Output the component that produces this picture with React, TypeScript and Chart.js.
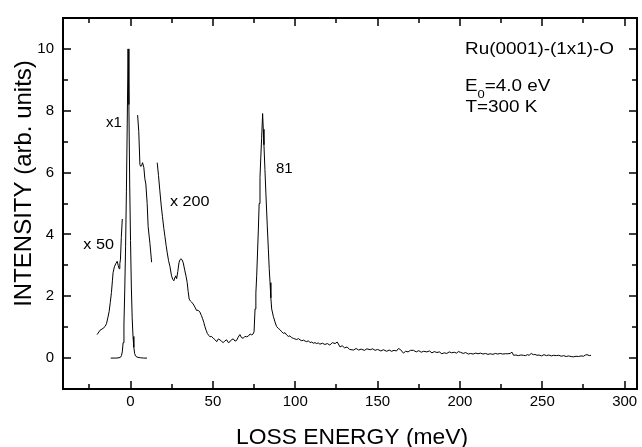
import React, { useEffect, useRef } from 'react';
import { Chart, registerables } from 'chart.js';
Chart.register(...registerables);

const FONT = '"Liberation Sans", Arial, sans-serif';

// x1 : elastic peak
const elasticEnergy = [-12, -9, -7, -6, -5.5, -5, -4.5, -4, -3.5, -3, -2.5, -2, -1.5, -1, -0.5, 0, 0.5, 1, 1.5, 2, 2.5, 3, 4, 6, 8, 10];
const elasticIntensity = [0, 0, 0.01, 0.03, 0.08, 0.2, 0.5, 1.1, 2.2, 3.6, 5.4, 7.6, 10, 8.2, 5.6, 3.8, 2.3, 1.3, 0.7, 0.35, 0.15, 0.07, 0.03, 0.01, 0, 0];

// x50 : left wing
const x50LeftEnergy = [-20.3, -18.5, -16.7, -15.5, -14.6, -13.8, -13, -12.3, -11.6, -11, -10.6, -9.8, -9, -8.1, -7.5, -6.9, -6.5, -6.1, -5.6, -5.0];
const x50LeftIntensity = [0.76, 0.9, 0.96, 1.02, 1.11, 1.3, 1.5, 1.8, 2.12, 2.5, 2.76, 2.95, 3.05, 3.13, 3.0, 2.89, 3.05, 3.2, 3.9, 4.5];

// x50 : right wing
const x50RightEnergy = [4.3, 5, 5.7, 6.2, 6.7, 7.3, 8.1, 8.7, 9.3, 10.1, 10.7, 11.8, 12.8];
const x50RightIntensity = [7.86, 7.33, 6.26, 6.2, 6.22, 6.32, 6.16, 5.8, 5.63, 5.0, 4.25, 3.7, 3.1];

// x200 : loss region
const x200Energy = [16.2, 17, 17.8, 18.6, 19.4, 20.2, 20.9, 21.6, 22.3, 23.1, 23.9, 24.9, 25.6, 26.3, 27, 27.4, 28, 28.7, 29.4, 30.0, 30.6, 31.3, 32, 33, 33.7, 34.4, 35, 35.6, 36.3, 37.1, 38, 39.1, 40.1, 41, 42.1, 43, 43.8, 44.5, 45.2, 45.9, 46.6, 47.4, 48.2, 49.2, 50.2, 51.2, 52.3, 53.3, 54.3, 55.3, 56.3, 57.3, 58.4, 59.4, 60.4, 61.4, 62.4, 63.4, 64.4, 65.4, 66.4, 67.4, 68.4, 69.4, 70.5, 71.5, 72.6, 73.6, 74.4, 75, 75.6, 76.1, 76.6, 77.1, 77.6, 78.1, 78.6, 79.1, 79.6, 80.2, 80.6, 81, 81.6, 82.2, 83, 83.7, 84.2, 84.7, 85.2, 85.7, 86.7, 87.7, 88.7, 89.7, 90.7, 91.8, 92.8, 93.8, 94.8, 95.8, 96.8, 97.8, 98.8, 99.8, 100.9, 101.9, 102.9, 104, 105, 106, 107, 108, 109, 110, 111, 112, 113, 114, 115, 116.5, 118, 119.5, 121, 122.5, 124.2, 125.5, 127.2, 128.5, 130, 131.5, 133, 135.3, 137, 138.5, 140, 142, 143.5, 145.5, 147, 148.5, 150, 152, 153.5, 155.6, 157, 158.5, 160, 161.5, 162.7, 164, 165.7, 167, 168.5, 170, 171.8, 173.5, 175, 176.5, 178, 179.9, 181.5, 183, 184.5, 186, 187.5, 189, 190.5, 192, 193.5, 195, 196.5, 198, 199, 200.2, 202, 203.5, 205, 206.5, 208, 209.5, 211, 212.5, 214, 215.5, 217, 218.4, 220, 221.5, 223, 224.5, 226, 227.5, 229, 230.5, 231.6, 232.6, 234, 235.5, 237, 238.5, 239.7, 241, 242, 243.3, 244.5, 245.5, 246.8, 248, 249.5, 251, 252.5, 254, 255.5, 256.9, 258.5, 260, 261.5, 263, 264.5, 266, 267.5, 269, 270.5, 272, 273.5, 275, 276.2, 277.2, 278.5, 279.6];
const x200Intensity = [6.32, 5.9, 5.41, 4.95, 4.57, 4.2, 3.93, 3.65, 3.4, 3.15, 2.97, 2.66, 2.55, 2.5, 2.62, 2.66, 2.57, 2.8, 3.08, 3.18, 3.21, 3.18, 3.08, 2.82, 2.65, 2.44, 2.15, 1.91, 1.85, 1.81, 1.75, 1.65, 1.54, 1.55, 1.49, 1.38, 1.27, 1.15, 1.01, 0.9, 0.8, 0.74, 0.69, 0.7, 0.64, 0.6, 0.53, 0.62, 0.59, 0.54, 0.5, 0.56, 0.59, 0.5, 0.53, 0.6, 0.62, 0.55, 0.57, 0.68, 0.76, 0.66, 0.64, 0.7, 0.69, 0.71, 0.78, 0.75, 0.78, 0.85, 1.59, 2.1, 2.66, 3.4, 4.14, 5.0, 5.84, 6.5, 7.11, 7.91, 7.4, 6.9, 6.1, 5.31, 4.3, 3.5, 2.9, 2.44, 1.95, 1.59, 1.35, 1.17, 1.02, 0.96, 0.92, 0.85, 0.8, 0.82, 0.75, 0.7, 0.72, 0.66, 0.64, 0.62, 0.6, 0.63, 0.59, 0.56, 0.58, 0.55, 0.53, 0.56, 0.5, 0.52, 0.48, 0.5, 0.47, 0.49, 0.45, 0.48, 0.44, 0.47, 0.42, 0.5, 0.47, 0.52, 0.36, 0.4, 0.33, 0.36, 0.28, 0.26, 0.31, 0.26, 0.29, 0.25, 0.3, 0.27, 0.3, 0.25, 0.28, 0.23, 0.27, 0.22, 0.26, 0.22, 0.25, 0.23, 0.31, 0.27, 0.16, 0.22, 0.2, 0.25, 0.25, 0.2, 0.24, 0.19, 0.22, 0.2, 0.23, 0.17, 0.21, 0.18, 0.2, 0.14, 0.17, 0.15, 0.2, 0.17, 0.19, 0.16, 0.21, 0.19, 0.15, 0.18, 0.13, 0.15, 0.13, 0.16, 0.14, 0.16, 0.13, 0.15, 0.12, 0.14, 0.12, 0.15, 0.13, 0.15, 0.13, 0.14, 0.14, 0.15, 0.19, 0.09, 0.1, 0.08, 0.1, 0.09, 0.08, 0.11, 0.09, 0.15, 0.11, 0.12, 0.09, 0.1, 0.07, 0.11, 0.08, 0.1, 0.07, 0.09, 0.08, 0.09, 0.06, 0.08, 0.05, 0.07, 0.05, 0.04, 0.06, 0.05, 0.07, 0.06, 0.1, 0.11, 0.08, 0.09];

const xTickValues = [0, 50, 100, 150, 200, 250, 300];
const xTickLabels = ['0', '50', '100', '150', '200', '250', '300'];
const xMinorTicks = [-25, 25, 75, 125, 175, 225, 275];
const yTickValues = [0, 2, 4, 6, 8, 10];
const yTickLabels = ['0', '2', '4', '6', '8', '10'];
const yMinorTicks = [1, 3, 5, 7, 9];

const xTitle = 'LOSS ENERGY (meV)';
const yTitle = 'INTENSITY (arb. units)';

const toPts = (xs: number[], ys: number[]) => xs.map((x, i) => ({ x, y: ys[i] }));

function stretchText(ctx: CanvasRenderingContext2D, text: string, x: number, y: number, size: number, sx: number) {
  ctx.save();
  ctx.font = `${size}px ${FONT}`;
  ctx.textAlign = 'left';
  ctx.textBaseline = 'alphabetic';
  ctx.translate(x, y);
  ctx.scale(sx, 1);
  ctx.fillText(text, 0, 0);
  const w = ctx.measureText(text).width * sx;
  ctx.restore();
  return w;
}

const framePlugin = {
  id: 'frame',
  afterDraw(chart: any) {
    const { ctx, chartArea: a, scales } = chart;
    const xs = scales.x;
    const ys = scales.y;
    ctx.save();
    ctx.strokeStyle = '#000';
    ctx.fillStyle = '#000';
    ctx.lineWidth = 2;
    ctx.strokeRect(a.left, a.top, a.right - a.left, a.bottom - a.top);
    ctx.lineWidth = 1.5;
    const xt = (v: number, len: number) => {
      const p = Math.round(xs.getPixelForValue(v));
      ctx.beginPath();
      ctx.moveTo(p, a.bottom); ctx.lineTo(p, a.bottom - len);
      ctx.moveTo(p, a.top); ctx.lineTo(p, a.top + len);
      ctx.stroke();
    };
    const yt = (v: number, len: number) => {
      const p = Math.round(ys.getPixelForValue(v));
      ctx.beginPath();
      ctx.moveTo(a.left, p); ctx.lineTo(a.left + len, p);
      ctx.moveTo(a.right, p); ctx.lineTo(a.right - len, p);
      ctx.stroke();
    };
    xTickValues.forEach((v) => xt(v, 8));
    xMinorTicks.forEach((v) => xt(v, 5));
    yTickValues.forEach((v) => yt(v, 8));
    yMinorTicks.forEach((v) => yt(v, 5));

    // annotations
    const S = 1.18;
    stretchText(ctx, 'Ru(0001)-(1x1)-O', 465, 53.5, 16, S);
    const w = stretchText(ctx, 'E', 465, 90.5, 16, S);
    const w0 = stretchText(ctx, '0', 465 + w, 97.5, 11, S);
    stretchText(ctx, '=4.0 eV', 465 + w + w0, 90.5, 16, S);
    stretchText(ctx, 'T=300 K', 465.5, 111.5, 16, S);
    stretchText(ctx, 'x1', 106, 126.5, 15, 1.0);
    stretchText(ctx, '81', 276, 173.3, 15, 1.0);
    stretchText(ctx, 'x 200', 170, 205.7, 15, 1.08);
    stretchText(ctx, 'x 50', 83.3, 249, 15, 1.08);

    // axis titles
    ctx.font = `22px ${FONT}`;
    const tw = ctx.measureText(xTitle).width * 1.037;
    stretchText(ctx, xTitle, 352 - tw / 2, 444, 22, 1.037);

    ctx.save();
    ctx.font = `24px ${FONT}`;
    ctx.textAlign = 'center';
    ctx.textBaseline = 'alphabetic';
    ctx.translate(30.7, 183.5);
    ctx.rotate(-Math.PI / 2);
    ctx.fillText(yTitle, 0, 0);
    ctx.restore();
    ctx.restore();
  },
};

export default function App() {
  const ref = useRef<HTMLCanvasElement>(null);
  useEffect(() => {
    const line = { showLine: true, pointRadius: 0, borderColor: '#000', backgroundColor: '#000', borderWidth: 1, fill: false, tension: 0 };
    const chart = new Chart(ref.current as HTMLCanvasElement, {
      type: 'scatter',
      data: {
        datasets: [
          { label: 'x1', data: toPts(elasticEnergy, elasticIntensity), ...line },
          { label: 'x50 left', data: toPts(x50LeftEnergy, x50LeftIntensity), ...line },
          { label: 'x50 right', data: toPts(x50RightEnergy, x50RightIntensity), ...line },
          { label: 'x200', data: toPts(x200Energy, x200Intensity), ...line },
        ],
      },
      options: {
        animation: false,
        responsive: false,
        devicePixelRatio: 1,
        layout: { padding: { top: 12, right: 5, left: 0, bottom: 0 } },
        plugins: { legend: { display: false }, tooltip: { enabled: false } },
        scales: {
          x: {
            type: 'linear',
            min: -41,
            max: 307.5,
            grid: { display: false, drawTicks: false },
            border: { display: false },
            ticks: {
              font: { family: FONT, size: 15 },
              color: '#000',
              padding: 4,
              maxRotation: 0,
              autoSkip: false,
              callback: (_v: any, i: number) => xTickLabels[i],
            },
            afterBuildTicks: (s: any) => { s.ticks = xTickValues.map((v) => ({ value: v })); },
            afterFit: (s: any) => { s.height = 58; },
          },
          y: {
            type: 'linear',
            min: -1,
            max: 11,
            grid: { display: false, drawTicks: false },
            border: { display: false },
            ticks: {
              font: { family: FONT, size: 15 },
              color: '#000',
              padding: 9,
              autoSkip: false,
              callback: (_v: any, i: number) => yTickLabels[i],
            },
            afterBuildTicks: (s: any) => { s.ticks = yTickValues.map((v) => ({ value: v })); },
            afterFit: (s: any) => { s.width = 63; },
          },
        },
      },
      plugins: [framePlugin],
    } as any);
    return () => chart.destroy();
  }, []);
  return (
    <div style={{ position: 'fixed', left: 0, top: 0, width: 642, height: 447, background: '#fff' }}>
      <canvas ref={ref} width={642} height={447} style={{ display: 'block' }} />
    </div>
  );
}
